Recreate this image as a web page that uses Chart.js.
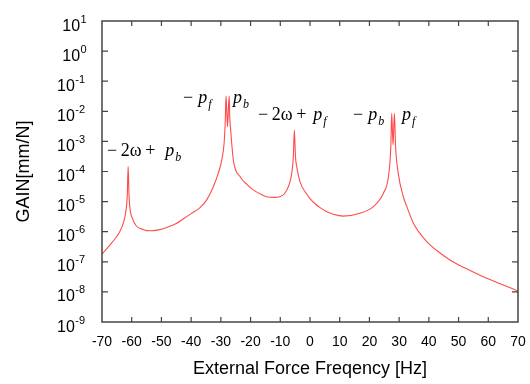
<!DOCTYPE html>
<html>
<head>
<meta charset="utf-8">
<script src="https://cdn.jsdelivr.net/npm/chart.js@4.4.1/dist/chart.umd.min.js"></script>
<style>
  html, body { margin: 0; padding: 0; background: #fff; }
  #wrap { width: 530px; height: 384px; position: relative; }
</style>
</head>
<body>
<div id="wrap"><canvas id="gain"></canvas></div>
<script>
// frequency [Hz] and gain [mm/N]
const freqHz = [
  -70, -67.3, -65, -63.9, -62.8, -62.0, -61.5, -61.2, -60.9, -60.5,
  -59.8, -58.5, -56, -53.8, -51, -48.2, -45, -42.6, -40, -37,
  -34.8, -32.5, -30.9, -29.7, -28.9, -28.5, -28.27, -28.0, -27.75, -27.5,
  -27.2, -27.0, -26.7, -25.8, -23.55, -21, -19.1, -16.5, -14.6, -12,
  -10.1, -7.8, -6.15, -5.6, -5.27, -4.9, -4.47, -3.35, -1.1, 0.0,
  1.7, 3.4, 5.5, 7.85, 11.2, 16.8, 21.3, 24.7, 26.4, 27.2,
  27.5, 27.95, 28.4, 28.8, 29.7, 31.4, 32.6, 34.8, 39.3, 43,
  47.1, 52, 58.3, 64, 70
]
const gainValues = [
  1.82e-7, 3.63e-7, 7.08e-7, 1.05e-6, 2.0e-6, 4.47e-6, 1.58e-5, 1.45e-4, 1.58e-5, 5.0e-6,
  2.82e-6, 1.58e-6, 1.17e-6, 1.07e-6, 1.15e-6, 1.38e-6, 1.86e-6, 2.69e-6, 3.98e-6, 6.3e-6,
  1.12e-5, 3.16e-5, 8.7e-5, 2.4e-4, 8.9e-4, 5.1e-3, 3.2e-2, 1.0e-2, 3.1e-3, 1.0e-2,
  3.2e-2, 6.3e-3, 2.4e-3, 2.4e-4, 6.8e-5, 3.55e-5, 2.45e-5, 1.74e-5, 1.45e-5, 1.38e-5,
  1.45e-5, 2.45e-5, 8.7e-5, 3.2e-4, 2.4e-3, 3.2e-4, 1.45e-4, 4.5e-5, 1.78e-5, 1.26e-5,
  8.5e-6, 6.3e-6, 4.7e-6, 3.8e-6, 3.3e-6, 4.1e-6, 6.8e-6, 1.9e-5, 6.8e-5, 6.6e-4,
  8.5e-3, 7.6e-4, 8.5e-3, 6.6e-4, 8.7e-5, 1.45e-5, 6.8e-6, 1.9e-6, 4.7e-7, 2.24e-7,
  1.15e-7, 6.3e-8, 3.2e-8, 1.86e-8, 1.07e-8
]
const yTickExps = [1, 0, -1, -2, -3, -4, -5, -6, -7, -8, -9]

// peak labels: anchor in data coords (Hz, gain at text baseline)
const peakLabels = [
  {x: -68.32, y: 3.27e-4, lead: '\u2212\u20092\u03c9\u2009+', gap: 10, sym: 'p', sub: 'b'},
  {x: -42.74, y: 1.89e-2, lead: '\u2212', gap: 5, sym: 'p', sub: 'f'},
  {x: -25.91, y: 1.89e-2, lead: '', gap: 0, sym: 'p', sub: 'b'},
  {x: -17.50, y: 5.14e-3, lead: '\u2212\u20092\u03c9\u2009+', gap: 7, sym: 'p', sub: 'f'},
  {x: 14.47, y: 5.14e-3, lead: '\u2212', gap: 5, sym: 'p', sub: 'b'},
  {x: 30.96, y: 5.14e-3, lead: '', gap: 0, sym: 'p', sub: 'f'}
]

const SANS = '"Liberation Sans", Arial, sans-serif'
const SERIF = '"Liberation Serif", "Times New Roman", serif'
const FRAME = '#444'

const framePlugin = {
  id: 'frame',
  afterDraw(chart) {
    const {ctx, chartArea: a, scales: {x, y}} = chart
    ctx.save()
    // box
    ctx.strokeStyle = FRAME
    ctx.lineWidth = 1.5
    ctx.strokeRect(a.left, a.top, a.right - a.left, a.bottom - a.top)
    // inward ticks
    ctx.lineWidth = 1.2
    ctx.beginPath()
    x.ticks.forEach(t => {
      const px = x.getPixelForValue(t.value)
      if (px <= a.left + 1 || px >= a.right - 1) return
      ctx.moveTo(px, a.bottom); ctx.lineTo(px, a.bottom - 5)
      ctx.moveTo(px, a.top); ctx.lineTo(px, a.top + 5)
    })
    yTickExps.forEach(e => {
      const py = y.getPixelForValue(Math.pow(10, e))
      if (py <= a.top + 1 || py >= a.bottom - 1) return
      ctx.moveTo(a.left, py); ctx.lineTo(a.left + 6, py)
      ctx.moveTo(a.right, py); ctx.lineTo(a.right - 6, py)
    })
    ctx.stroke()

    // y labels 10^n
    ctx.fillStyle = '#000'
    ctx.textBaseline = 'alphabetic'
    ctx.textAlign = 'left'
    yTickExps.forEach(e => {
      const py = y.getPixelForValue(Math.pow(10, e))
      const ex = String(e)
      ctx.font = '16px ' + SANS
      const full = ctx.measureText('10' + ex).width
      const base = ctx.measureText('10').width
      const x0 = a.left - 13 - full
      ctx.fillText('10', x0, py + 9.5)
      ctx.font = '11px ' + SANS
      ctx.fillText(ex, x0 + base + 0.5, py + 1.5)
    })

    // peak labels
    peakLabels.forEach(l => {
      let px = x.getPixelForValue(l.x)
      const py = y.getPixelForValue(l.y)
      ctx.font = '18px ' + SERIF
      if (l.lead) {
        ctx.fillText(l.lead, px, py)
        px += ctx.measureText(l.lead).width + l.gap
      }
      ctx.font = 'italic 18px ' + SERIF
      ctx.fillText(l.sym, px, py)
      px += ctx.measureText(l.sym).width + 1
      ctx.font = 'italic 12px ' + SERIF
      ctx.fillText(l.sub, px, py + 5)
    })
    ctx.restore()
  }
}

new Chart(document.getElementById('gain'), {
  type: 'line',
  data: {
    datasets: [{
      data: freqHz.map((f, i) => ({x: f, y: gainValues[i]})),
      borderColor: 'rgb(255,75,75)',
      borderWidth: 1.1,
      pointRadius: 0,
      cubicInterpolationMode: 'monotone',
      fill: false
    }]
  },
  options: {
    responsive: true,
    maintainAspectRatio: false,
    animation: false,
    events: [],
    layout: {padding: {top: 21, right: 12, left: 0, bottom: 0}},
    plugins: {legend: {display: false}, tooltip: {enabled: false}},
    scales: {
      x: {
        type: 'linear',
        min: -70,
        max: 70,
        ticks: {stepSize: 10, color: '#000', padding: 12, maxRotation: 0, font: {size: 14, family: SANS}},
        grid: {display: true, drawOnChartArea: false, drawTicks: false},
        border: {display: false},
        title: {display: true, text: 'External Force Freqency [Hz]', color: '#000',
          font: {size: 18, family: SANS}, padding: {top: 0, bottom: 4}},
        afterFit: s => { s.height = 62; s.paddingLeft = 0; s.paddingRight = 0 }
      },
      y: {
        type: 'logarithmic',
        min: 1e-9,
        max: 10,
        afterBuildTicks: s => { s.ticks = yTickExps.map(e => ({value: Math.pow(10, e)})) },
        ticks: {display: false},
        grid: {display: true, drawOnChartArea: false, drawTicks: false},
        border: {display: false},
        title: {display: true, text: 'GAIN[mm/N]', color: '#000',
          font: {size: 18, family: SANS}, padding: {top: 13, bottom: 0}},
        afterFit: s => { s.width = 102 }
      }
    }
  },
  plugins: [framePlugin]
})
</script>
</body>
</html>
